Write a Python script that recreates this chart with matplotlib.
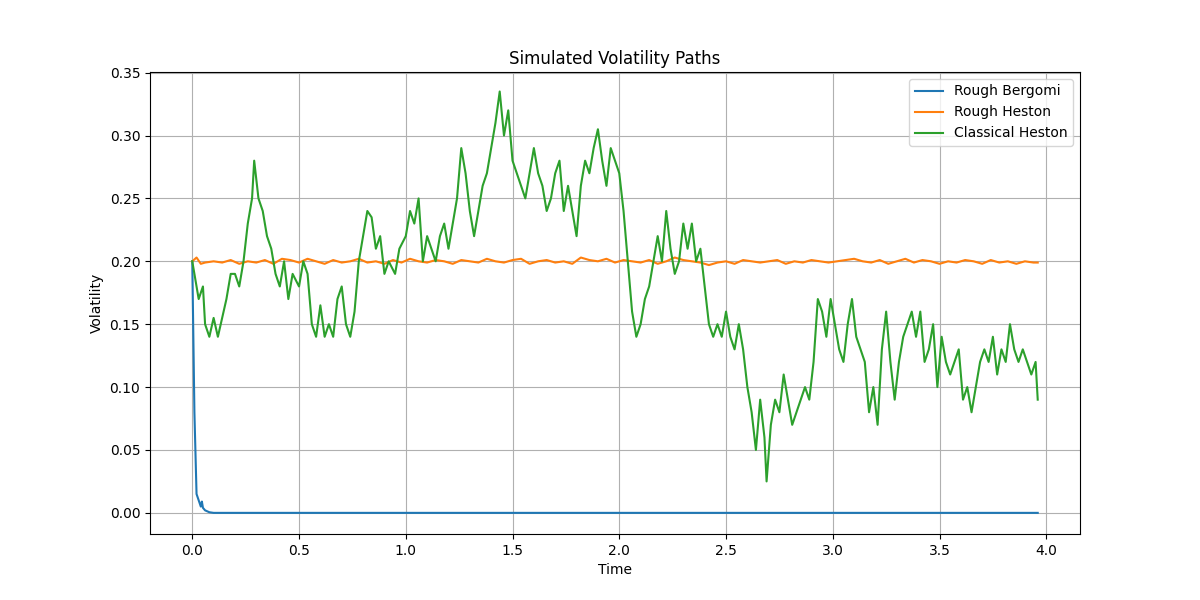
import numpy as np
import matplotlib
matplotlib.use('Agg')
import matplotlib.pyplot as plt

# Rough Bergomi (blue)
t_berg=[0.0,0.01,0.02,0.03,0.04,0.045,0.05,0.06,0.08,0.1,3.96]
v_berg=[0.2,0.08,0.015,0.01,0.005,0.009,0.004,0.002,0.0005,0.0,0.0]

# Rough Heston (orange)
t_rh=[0.0,0.02,0.04,0.06,0.1,0.14,0.18,0.22,0.26,0.3,0.34,0.38,0.42,0.46,0.5,0.54,0.58,0.62,0.66,0.7,0.74,0.78,0.82,0.86,0.9,0.94,0.98,1.02,1.06,1.1,1.14,1.18,1.22,1.26,1.3,1.34,1.38,1.42,1.46,1.5,1.54,1.58,1.62,1.66,1.7,1.74,1.78,1.82,1.86,1.9,1.94,1.98,2.02,2.06,2.1,2.14,2.18,2.22,2.26,2.3,2.34,2.38,2.42,2.46,2.5,2.54,2.58,2.62,2.66,2.7,2.74,2.78,2.82,2.86,2.9,2.94,2.98,3.02,3.06,3.1,3.14,3.18,3.22,3.26,3.3,3.34,3.38,3.42,3.46,3.5,3.54,3.58,3.62,3.66,3.7,3.74,3.78,3.82,3.86,3.9,3.94,3.96]
v_rh=[0.2,0.203,0.198,0.199,0.2,0.199,0.201,0.198,0.2,0.199,0.201,0.198,0.202,0.201,0.199,0.202,0.2,0.198,0.201,0.199,0.2,0.202,0.199,0.2,0.198,0.201,0.199,0.202,0.2,0.199,0.201,0.2,0.198,0.201,0.2,0.199,0.202,0.2,0.199,0.201,0.202,0.198,0.2,0.201,0.199,0.2,0.198,0.203,0.201,0.2,0.202,0.199,0.201,0.2,0.199,0.201,0.198,0.2,0.203,0.201,0.2,0.199,0.197,0.199,0.2,0.198,0.201,0.2,0.199,0.2,0.201,0.198,0.2,0.199,0.201,0.2,0.199,0.2,0.201,0.202,0.2,0.199,0.201,0.198,0.2,0.202,0.199,0.201,0.2,0.198,0.2,0.199,0.201,0.2,0.198,0.201,0.199,0.2,0.198,0.2,0.199,0.199]

# Classical Heston (green)
t_ch=[0.0,0.02,0.03,0.05,0.06,0.08,0.1,0.12,0.14,0.16,0.18,0.2,0.22,0.24,0.26,0.28,0.29,0.31,0.33,0.35,0.37,0.39,0.41,0.43,0.45,0.47,0.5,0.52,0.54,0.56,0.58,0.6,0.62,0.64,0.66,0.68,0.7,0.72,0.74,0.76,0.78,0.8,0.82,0.84,0.86,0.88,0.9,0.92,0.95,0.97,1.0,1.02,1.04,1.06,1.08,1.1,1.12,1.14,1.16,1.18,1.2,1.22,1.24,1.26,1.28,1.3,1.32,1.34,1.36,1.38,1.4,1.42,1.44,1.46,1.48,1.5,1.52,1.54,1.56,1.58,1.6,1.62,1.64,1.66,1.68,1.7,1.72,1.74,1.76,1.78,1.8,1.82,1.84,1.86,1.88,1.9,1.92,1.94,1.96,1.98,2.0,2.02,2.04,2.06,2.08,2.1,2.12,2.14,2.16,2.18,2.2,2.22,2.24,2.26,2.28,2.3,2.32,2.34,2.36,2.38,2.4,2.42,2.44,2.46,2.48,2.5,2.52,2.54,2.56,2.58,2.6,2.62,2.64,2.66,2.68,2.69,2.71,2.73,2.75,2.77,2.79,2.81,2.83,2.85,2.87,2.89,2.91,2.93,2.95,2.97,2.99,3.01,3.03,3.05,3.07,3.09,3.11,3.13,3.15,3.17,3.19,3.21,3.23,3.25,3.27,3.29,3.31,3.33,3.35,3.37,3.39,3.41,3.43,3.45,3.47,3.49,3.51,3.53,3.55,3.57,3.59,3.61,3.63,3.65,3.67,3.69,3.71,3.73,3.75,3.77,3.79,3.81,3.83,3.85,3.87,3.89,3.91,3.93,3.95,3.96]
v_ch=[0.2,0.18,0.17,0.18,0.15,0.14,0.155,0.14,0.155,0.17,0.19,0.19,0.18,0.2,0.23,0.25,0.28,0.25,0.24,0.22,0.21,0.19,0.18,0.2,0.17,0.19,0.18,0.2,0.19,0.15,0.14,0.165,0.14,0.15,0.14,0.17,0.18,0.15,0.14,0.16,0.2,0.22,0.24,0.235,0.21,0.22,0.19,0.2,0.19,0.21,0.22,0.24,0.23,0.25,0.2,0.22,0.21,0.2,0.22,0.23,0.21,0.23,0.25,0.29,0.27,0.24,0.22,0.24,0.26,0.27,0.29,0.31,0.335,0.3,0.32,0.28,0.27,0.26,0.25,0.27,0.29,0.27,0.26,0.24,0.25,0.27,0.28,0.24,0.26,0.24,0.22,0.26,0.28,0.27,0.29,0.305,0.28,0.26,0.29,0.28,0.27,0.24,0.2,0.16,0.14,0.15,0.17,0.18,0.2,0.22,0.2,0.24,0.21,0.19,0.2,0.23,0.21,0.23,0.2,0.21,0.18,0.15,0.14,0.15,0.14,0.16,0.14,0.13,0.15,0.13,0.1,0.08,0.05,0.09,0.06,0.025,0.07,0.09,0.08,0.11,0.09,0.07,0.08,0.09,0.1,0.09,0.12,0.17,0.16,0.14,0.17,0.15,0.13,0.12,0.15,0.17,0.14,0.13,0.12,0.08,0.1,0.07,0.13,0.16,0.12,0.09,0.12,0.14,0.15,0.16,0.14,0.16,0.12,0.13,0.15,0.1,0.14,0.12,0.11,0.12,0.13,0.09,0.1,0.08,0.1,0.12,0.13,0.12,0.14,0.11,0.13,0.12,0.15,0.13,0.12,0.13,0.12,0.11,0.12,0.09]

plt.figure(figsize=(12,6))
plt.plot(t_berg,v_berg,label='Rough Bergomi')
plt.plot(t_rh,v_rh,label='Rough Heston')
plt.plot(t_ch,v_ch,label='Classical Heston')
plt.ylim(-0.0168,0.3505)
plt.title('Simulated Volatility Paths')
plt.xlabel('Time')
plt.ylabel('Volatility')
plt.legend()
plt.grid(True)
plt.savefig('out.png',dpi=100)
